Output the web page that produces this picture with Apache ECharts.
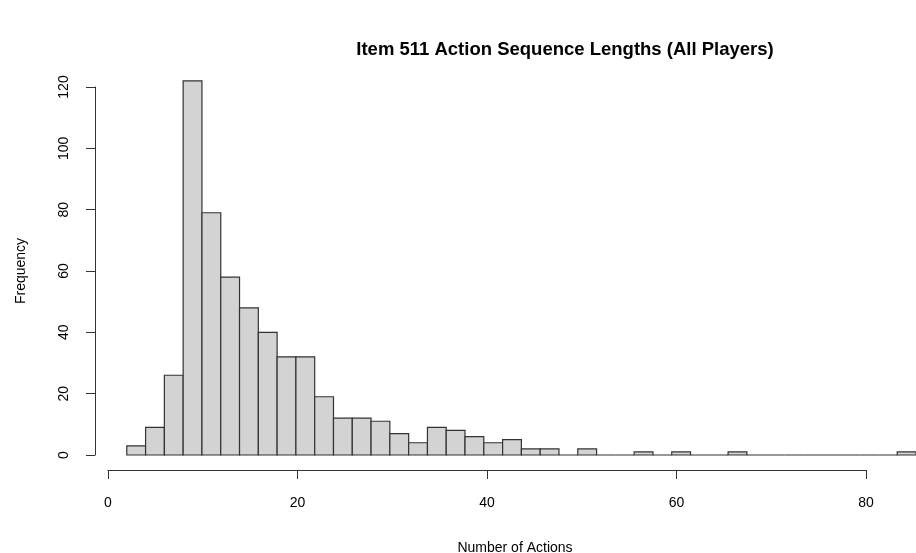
<!DOCTYPE html>
<html>
<head>
<meta charset="utf-8">
<script src="https://cdn.jsdelivr.net/npm/echarts@6/dist/echarts.min.js"></script>
<style>html,body{margin:0;padding:0;background:#fff}#c{width:916px;height:553px}</style>
</head>
<body>
<div id="c"></div>
<script>
// Histogram bins (width 2) starting at these left edges
var binStarts = [2,4,6,8,10,12,14,16,18,20,22,24,26,28,30,32,34,36,38,40,42,44,46,48,50,52,54,56,58,60,62,64,66,68,70,72,74,76,78,80,82,84];
var counts    = [3,9,26,122,79,58,48,40,32,32,19,12,12,11,7,4,9,8,6,4,5,2,2,0,2,0,0,1,0,1,0,0,1,0,0,0,0,0,0,0,0,1];
var binWidth = 2;
var xTicks = [0,20,40,60,80];
var yTicks = [0,20,40,60,80,100,120];
var titleText = 'Item 511 Action Sequence Lengths (All Players)';
var xName = 'Number of Actions';
var yName = 'Frequency';

var data = binStarts.map(function(s,i){ return [s, s + binWidth, counts[i]]; });
var font = 'Liberation Sans, Arial, Helvetica, sans-serif';

var chart = echarts.init(document.getElementById('c'), null, {renderer:'canvas'});
chart.setOption({
  backgroundColor: '#ffffff',
  animation: false,
  title: [
    {text: titleText, left: 560, top: 35, textAlign: 'center',
     textStyle: {fontFamily: font, fontSize: 18.5, fontWeight: 'bold', color: '#000'}},
    {text: xName, left: 510, top: 536, textAlign: 'center',
     textStyle: {fontFamily: font, fontSize: 14, fontWeight: 'normal', color: '#000'}}
  ],
  grid: [
    {left: 108, right: -7, top: 87, bottom: 98},
    {left: 108, right: 50, top: 87, bottom: 98}
  ],
  xAxis: [
    {type: 'value', gridIndex: 0, min: 0, max: 86, show: false},
    {type: 'value', gridIndex: 1, min: 0, max: xTicks[xTicks.length-1], interval: 20, offset: 15,
     axisLine: {show: true, onZero: false, lineStyle: {color: '#333', width: 1}},
     axisTick: {show: true, length: 9, lineStyle: {color: '#333'}},
     axisLabel: {margin: 26, fontFamily: font, fontSize: 14, color: '#000'},
     splitLine: {show: false}}
  ],
  yAxis: [
    {type: 'value', gridIndex: 0, min: 0, max: yTicks[yTicks.length-1], interval: 20, offset: 13,
     name: yName, nameLocation: 'middle', nameGap: 67,
     nameTextStyle: {fontFamily: font, fontSize: 14, color: '#000'},
     axisLine: {show: true, onZero: false, lineStyle: {color: '#333', width: 1}},
     axisTick: {show: true, length: 9, lineStyle: {color: '#333'}},
     axisLabel: {rotate: 90, margin: 24, fontFamily: font, fontSize: 14, color: '#000'},
     splitLine: {show: false}},
    {type: 'value', gridIndex: 1, min: 0, max: 120, show: false}
  ],
  series: [{
    type: 'custom',
    xAxisIndex: 0, yAxisIndex: 0,
    data: data,
    clip: false,
    renderItem: function(params, api){
      var p0 = api.coord([api.value(0), api.value(2)]);
      var p1 = api.coord([api.value(1), 0]);
      return {
        type: 'rect',
        shape: {x: p0[0], y: p0[1], width: p1[0]-p0[0], height: p1[1]-p0[1]},
        style: {fill: '#d3d3d3', stroke: '#333', lineWidth: 1.2}
      };
    }
  }]
});
</script>
</body>
</html>
